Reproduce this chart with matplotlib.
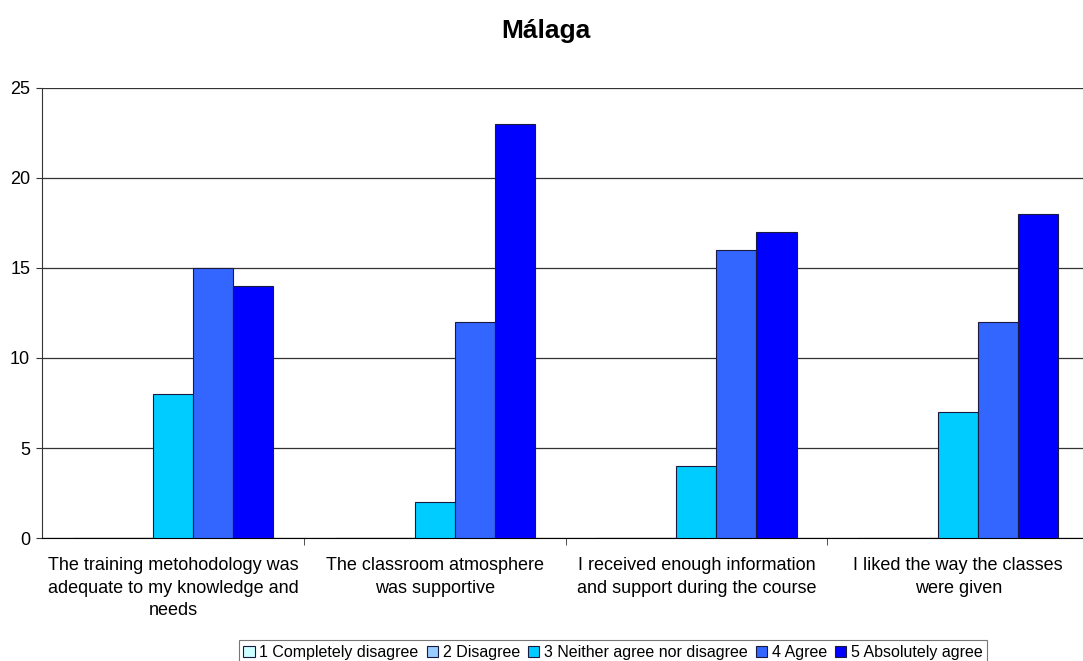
import numpy as np
import matplotlib.pyplot as plt

plt.rcParams['font.family'] = ['Liberation Sans', 'DejaVu Sans']

# Survey data
questions = [
    'The training metohodology was\nadequate to my knowledge and\nneeds',
    'The classroom atmosphere\nwas supportive',
    'I received enough information\nand support during the course',
    'I liked the way the classes\nwere given',
]
answers = ['1 Completely disagree', '2 Disagree', '3 Neither agree nor disagree',
           '4 Agree', '5 Absolutely agree']
completely_disagree = [0, 0, 0, 0]
disagree = [0, 0, 0, 0]
neither = [8, 2, 4, 7]
agree = [15, 12, 16, 12]
absolutely_agree = [14, 23, 17, 18]

series = [completely_disagree, disagree, neither, agree, absolutely_agree]
colors = ['#CCFFFF', '#99CCFF', '#00CCFF', '#3366FF', '#0000FF']

fig = plt.figure(figsize=(10.83, 6.61), dpi=100)
ax = fig.add_axes([0.0388, 0.186, 0.9668, 0.681])

x = np.arange(len(questions))
bar_width = 0.153
for i, (vals, col, lab) in enumerate(zip(series, colors, answers)):
    ax.bar(x + (i - 2) * bar_width, vals, width=bar_width, color=col,
           edgecolor='#1a1a40', linewidth=0.8, label=lab, zorder=3)

ax.set_xlim(-0.5, len(questions) - 0.5)
ax.set_ylim(0, 25)
ax.set_yticks([0, 5, 10, 15, 20, 25])
ax.yaxis.grid(True, color='#333333', linewidth=0.9, zorder=0)

ax.set_xticks(x)
ax.set_xticklabels(questions, fontsize=13, linespacing=1.4)
ax.tick_params(axis='x', length=0, pad=14)
ax.set_xticks(np.arange(0.5, len(questions) - 0.5, 1), minor=True)
ax.tick_params(axis='x', which='minor', length=5, color='#333333')
ax.tick_params(axis='y', labelsize=13, length=4.5, pad=4, color='#333333')

for side in ['top', 'right']:
    ax.spines[side].set_visible(False)
ax.spines['left'].set_color('#333333')
ax.spines['bottom'].set_color('#000000')

# title centred on the chart area as in the original
fig.text(546 / 1083, 1 - 38 / 661, 'Málaga', fontsize=19, fontweight='bold',
         ha='center', va='baseline')

leg = ax.legend(loc='upper center', bbox_to_anchor=(613 / 1083, 1 - 640 / 661),
                bbox_transform=fig.transFigure,
                ncol=5, fontsize=11.5, frameon=True, fancybox=False, edgecolor='#555555',
                handlelength=0.7, handleheight=0.7, handletextpad=0.3, columnspacing=0.5,
                borderpad=0.3, borderaxespad=0)
leg.get_frame().set_linewidth(0.8)

plt.savefig('out.png', dpi=100)
